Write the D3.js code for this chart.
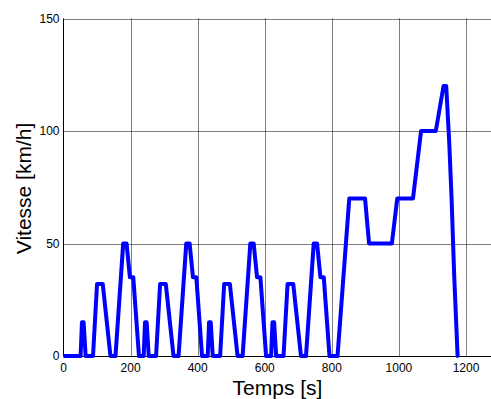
<!DOCTYPE html>
<html>
<head>
<meta charset="utf-8">
<script src="https://cdn.jsdelivr.net/npm/d3@7"></script>
<style>
  body { margin: 0; background: #fff; }
  svg { display: block; font-family: "Liberation Sans", Arial, sans-serif; }
</style>
</head>
<body>
<svg id="chart" width="491" height="399"></svg>
<script>
// NEDC speed profile: time [s] and speed [km/h]
const times = [
  0, 51, 55, 60, 66, 88, 100, 117, 140, 155, 178, 188, 198, 208, 225,
  239, 243, 248, 254, 276, 288, 305, 328, 343, 366, 376, 386, 396, 413,
  430, 434, 439, 445, 467, 479, 496, 519, 534, 557, 567, 577, 587, 604,
  619, 623, 628, 634, 656, 668, 685, 708, 723, 746, 756, 766, 776, 793,
  817, 852, 899, 911, 979, 995, 1042, 1066, 1110, 1133, 1141, 1150, 1157, 1165, 1175, 1178
];
const speeds = [
  0, 0, 15, 15, 0, 0, 32, 32, 0, 0, 50, 50, 35, 35, 0,
  0, 15, 15, 0, 0, 32, 32, 0, 0, 50, 50, 35, 35, 0,
  0, 15, 15, 0, 0, 32, 32, 0, 0, 50, 50, 35, 35, 0,
  0, 15, 15, 0, 0, 32, 32, 0, 0, 50, 50, 35, 35, 0,
  0, 70, 70, 50, 50, 70, 70, 100, 100, 120, 120, 95, 70, 35, 0, 0
];
const xTicks = [0, 200, 400, 600, 800, 1000, 1200];
const yTicks = [0, 50, 100, 150];

const svg = d3.select("#chart");
const plotRight = 491;

const x = d3.scaleLinear().domain([0, 1200]).range([63.5, 466]);
const y = d3.scaleLinear().domain([0, 150]).range([356, 18.5]);

const data = times.map((t, i) => ({ t: t, v: speeds[i] }));

// grid lines (dotted, like matlab)
svg.append("g")
  .selectAll("line")
  .data(xTicks.slice(1))
  .join("line")
  .attr("x1", d => Math.round(x(d)) + 0.5)
  .attr("x2", d => Math.round(x(d)) + 0.5)
  .attr("y1", y(150))
  .attr("y2", y(0))
  .style("stroke", "#000")
  .style("stroke-dasharray", "1,1");

svg.append("g")
  .selectAll("line")
  .data(yTicks.slice(1))
  .join("line")
  .attr("x1", x(0))
  .attr("x2", plotRight)
  .attr("y1", d => Math.round(y(d)) + 0.5)
  .attr("y2", d => Math.round(y(d)) + 0.5)
  .style("stroke", "#000")
  .style("stroke-dasharray", "1,1");

// axes box (left + bottom)
svg.append("line")
  .attr("x1", x(0)).attr("x2", x(0))
  .attr("y1", y(150)).attr("y2", y(0))
  .style("stroke", "#000");
svg.append("line")
  .attr("x1", x(0)).attr("x2", plotRight)
  .attr("y1", Math.round(y(0)) + 0.5).attr("y2", Math.round(y(0)) + 0.5)
  .style("stroke", "#000");

// speed curve
const line = d3.line().x(d => x(d.t)).y(d => y(d.v));
svg.append("path")
  .datum(data)
  .attr("d", line)
  .style("fill", "none")
  .style("stroke", "#0000ff")
  .style("stroke-width", 4)
  .style("stroke-linejoin", "round")
  .style("stroke-linecap", "butt");

// tick labels
svg.append("g")
  .selectAll("text")
  .data(xTicks)
  .join("text")
  .attr("x", d => x(d))
  .attr("y", 372)
  .attr("text-anchor", "middle")
  .style("font-size", "12px")
  .text(d => d);

svg.append("g")
  .selectAll("text")
  .data(yTicks)
  .join("text")
  .attr("x", 59.5)
  .attr("y", d => y(d) + 4.3)
  .attr("text-anchor", "end")
  .style("font-size", "12px")
  .text(d => d);

// axis labels
svg.append("text")
  .attr("x", 277.5)
  .attr("y", 395)
  .attr("text-anchor", "middle")
  .style("font-size", "21px")
  .text("Temps [s]");

svg.append("text")
  .attr("transform", "translate(31, 188.5) rotate(-90)")
  .attr("text-anchor", "middle")
  .style("font-size", "21px")
  .text("Vitesse [km/h]");
</script>
</body>
</html>
